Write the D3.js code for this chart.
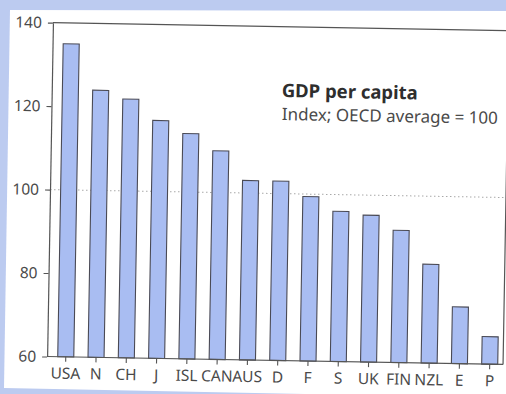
<!DOCTYPE html>
<html>
<head>
<meta charset="utf-8">
<script src="https://cdn.jsdelivr.net/npm/d3@7"></script>
<style>
  html, body { margin: 0; padding: 0; background: #bccbf0; }
  svg { display: block; }
</style>
</head>
<body>
<svg id="chart" width="506" height="394"></svg>
<script>
// GDP per capita by country, index with OECD average = 100
const countries = ["USA", "N", "CH", "J", "ISL", "CAN", "AUS", "D", "F", "S", "UK", "FIN", "NZL", "E", "P"];
const gdpIndex = [135, 124, 122, 117, 114, 110, 103, 103, 99.4, 96, 95.2, 91.7, 83.7, 73.6, 66.6];
const yTicks = [60, 80, 100, 120, 140];
const oecdAverage = 100;
const titleText = "GDP per capita";
const subtitleText = "Index; OECD average = 100";

const W = 506, H = 394;
const svg = d3.select("#chart");
const FONT = "'Noto Sans', 'Open Sans', sans-serif";
const INK = "#4a4a4a";

// page background and printed panel
svg.append("rect").attr("width", W).attr("height", H).attr("fill", "#bccbf0");
svg.append("polygon")
  .attr("points", "10,10 506,11 506,398 4,388")
  .attr("fill", "#ffffff");

// the printed chart sits slightly skewed on the page
const g = svg.append("g").attr("transform", "rotate(1, 277, 193)");

const plot = { left: 50, right: 506, top: 26.6, bottom: 360.5 };

const x = d3.scaleBand()
  .domain(countries)
  .range([53.5, 507.8])
  .paddingInner(0.47)
  .paddingOuter(0.235);

const y = d3.scaleLinear()
  .domain([60, 140])
  .range([plot.bottom, plot.top]);

// frame: top and right edges
g.append("path")
  .attr("d", `M${plot.left},${plot.top}H${plot.right}V${plot.bottom}`)
  .attr("fill", "none")
  .attr("stroke", "#555")
  .attr("stroke-width", 1.2);

// reference line at the OECD average
g.append("line")
  .attr("x1", plot.left).attr("x2", plot.right)
  .attr("y1", y(oecdAverage)).attr("y2", y(oecdAverage))
  .attr("stroke", "#a8a8a8")
  .attr("stroke-width", 1)
  .attr("stroke-dasharray", "1.5,2.5");

// bars
g.append("g")
  .selectAll("rect")
  .data(countries)
  .join("rect")
  .attr("x", d => x(d))
  .attr("width", x.bandwidth())
  .attr("y", (d, i) => y(gdpIndex[i]))
  .attr("height", (d, i) => y(60) - y(gdpIndex[i]))
  .attr("fill", "#a9bdf2")
  .attr("stroke", "#4a4a55")
  .attr("stroke-width", 1.1);

// y axis
const yAxis = g.append("g")
  .attr("transform", `translate(${plot.left},0)`)
  .call(d3.axisLeft(y).tickValues(yTicks).tickSize(5).tickSizeOuter(0).tickPadding(6));

// x axis
const xAxis = g.append("g")
  .attr("transform", `translate(0,${plot.bottom})`)
  .call(d3.axisBottom(x).tickSize(5).tickSizeOuter(0).tickPadding(6));
xAxis.select(".domain").attr("d", `M${plot.left},0H${plot.right}`);

[yAxis, xAxis].forEach(ax => {
  ax.select(".domain").attr("stroke", "#555").attr("stroke-width", 1.2);
  ax.selectAll(".tick line").attr("stroke", "#555").attr("stroke-width", 1.1);
  ax.selectAll(".tick text")
    .attr("fill", INK)
    .style("font-family", FONT)
    .style("font-size", "15.5px");
});

// title block
g.append("text")
  .attr("x", 280).attr("y", 97)
  .attr("fill", "#2e2e2e")
  .style("font-family", FONT)
  .style("font-weight", "bold")
  .style("font-size", "18.5px")
  .text(titleText);

g.append("text")
  .attr("x", 280.5).attr("y", 120)
  .attr("fill", INK)
  .style("font-family", FONT)
  .style("font-size", "17px")
  .text(subtitleText);
</script>
</body>
</html>
